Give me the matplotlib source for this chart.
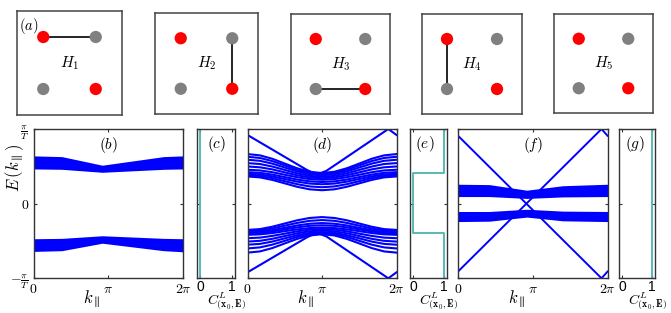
#!/usr/bin/env python3
"""
Floquet ribbon spectra for the five-step driving protocol H1..H5.

Top row: coupling pattern of every step.
Bottom row: quasienergy bands E(k) and the local marker C^L for three cases.
"""

import sys
import matplotlib
matplotlib.use("Agg")
import matplotlib.pyplot as plt

plt.rcParams['mathtext.fontset'] = 'cm'
plt.rcParams['font.family'] = ['DejaVu Serif']

BLUE = '#0000ff'
CYAN = '#4bb5ae'
FRAME = '#333333'

# --- top row: sites 0=TL, 1=TR, 2=BL, 3=BR --------------------------------
step_names = ['$H_1$', '$H_2$', '$H_3$', '$H_4$', '$H_5$']
step_bonds = [(0, 1), (1, 3), (2, 3), (0, 2), None]
site_x = [0.25, 0.75, 0.25, 0.75]
site_y = [0.75, 0.75, 0.25, 0.25]
site_colors = ['red', 'gray', 'gray', 'red']

# --- panel (b): band edges, k in units of pi, E in units of pi/T ----------
k_b = [0, 0.38, 0.92, 1.74, 2.0]
b_up_top = [0.64, 0.63, 0.515, 0.63, 0.64]
b_up_bot = [0.465, 0.46, 0.42, 0.46, 0.465]
b_lo_top = [-0.47, -0.465, -0.43, -0.465, -0.47]
b_lo_bot = [-0.64, -0.63, -0.53, -0.63, -0.645]

# --- panel (d): individual bulk lines on k = 0..pi (mirrored about pi) ----
k_d_half = [0, 1 / 6, 1 / 3, 1 / 2, 2 / 3, 5 / 6, 1.0]
d_upper = [
    [0.664, 0.647, 0.601, 0.537, 0.474, 0.427, 0.41],
    [0.628, 0.612, 0.570, 0.512, 0.453, 0.411, 0.395],
    [0.588, 0.574, 0.536, 0.484, 0.432, 0.394, 0.38],
    [0.543, 0.531, 0.497, 0.452, 0.406, 0.372, 0.36],
    [0.498, 0.487, 0.459, 0.419, 0.380, 0.351, 0.34],
    [0.454, 0.445, 0.421, 0.387, 0.354, 0.329, 0.32],
    [0.422, 0.413, 0.389, 0.356, 0.323, 0.299, 0.29],
    [0.400, 0.391, 0.365, 0.330, 0.295, 0.269, 0.26],
    [0.382, 0.371, 0.342, 0.301, 0.261, 0.231, 0.22],
    [0.364, 0.352, 0.318, 0.272, 0.226, 0.192, 0.18],
]
d_lower = [
    [-0.656, -0.640, -0.595, -0.533, -0.472, -0.426, -0.41],
    [-0.600, -0.586, -0.549, -0.498, -0.446, -0.409, -0.395],
    [-0.550, -0.539, -0.508, -0.465, -0.423, -0.391, -0.38],
    [-0.508, -0.498, -0.471, -0.434, -0.397, -0.370, -0.36],
    [-0.463, -0.455, -0.432, -0.402, -0.371, -0.348, -0.34],
    [-0.418, -0.411, -0.394, -0.369, -0.345, -0.327, -0.32],
    [-0.400, -0.393, -0.373, -0.345, -0.318, -0.297, -0.29],
    [-0.387, -0.379, -0.355, -0.324, -0.292, -0.269, -0.26],
    [-0.370, -0.360, -0.333, -0.295, -0.258, -0.230, -0.22],
    [-0.352, -0.341, -0.309, -0.266, -0.223, -0.192, -0.18],
]
k_d_edge = [0, 0.8, 0.93, 1.06, 1.89, 2.0]
d_edge_up = [0.92, 0.45, 0.39, 0.44, 1.0, 0.92]
d_edge_lo = [-0.92, -0.45, -0.39, -0.44, -1.0, -0.92]

# --- panel (f): band edges and two crossing edge states -------------------
k_f = [0, 0.42, 0.92, 1.4, 2.0]
f_up_top = [0.26, 0.255, 0.18, 0.24, 0.26]
f_up_bot = [0.095, 0.095, 0.07, 0.09, 0.095]
f_lo_top = [-0.105, -0.105, -0.075, -0.10, -0.105]
f_lo_bot = [-0.24, -0.235, -0.18, -0.23, -0.24]
k_f_edge = [0, 1.92, 2.0]
f_edge_a = [0.91, -1.0, -0.91]
f_edge_b = [-0.91, 1.0, 0.91]

# --- panels (c), (e), (g): local marker against energy --------------------
c_E = [-1, 1]
c_C = [0, 0]
e_E = [-1, -0.39, -0.39, 0.41, 0.41, 1]
e_C = [1, 1, 0, 0, 1, 1]
g_E = [-1, 1]
g_C = [1, 1]


def mirror(half):
    """Extend values given on 0..pi to 0..2pi (symmetric about pi)."""
    return list(half) + list(half[-2::-1])


def style_frame(ax):
    for s in ax.spines.values():
        s.set_color(FRAME)
        s.set_linewidth(1.0)


def draw_step(fig, rect, name, bond, label=None):
    ax = fig.add_axes(rect)
    ax.set_xlim(0, 1)
    ax.set_ylim(0, 1)
    ax.set_xticks([])
    ax.set_yticks([])
    for s in ax.spines.values():
        s.set_color('#444444')
        s.set_linewidth(1.1)
    if bond is not None:
        i, j = bond
        ax.plot([site_x[i], site_x[j]], [site_y[i], site_y[j]], color='black', lw=1.2, zorder=1)
    ax.scatter(site_x, site_y, s=78, c=site_colors, edgecolors='none', zorder=2)
    ax.text(0.5, 0.5, name, ha='center', va='center', fontsize=11)
    if label:
        ax.text(0.02, 0.95, label, ha='left', va='top', fontsize=10.5)


def band_axes(fig, rect, letter, show_y=False):
    ax = fig.add_axes(rect)
    ax.set_xlim(0, 2)
    ax.set_ylim(-1, 1)
    ax.set_xticks([0, 1, 2])
    ax.set_xticklabels(['$0$', '$\\pi$', '$2\\pi$'], fontsize=10)
    ax.set_yticks([-1, 0, 1])
    if show_y:
        ax.set_yticklabels(['$-\\frac{\\pi}{T}$', '$0$', '$\\frac{\\pi}{T}$'], fontsize=10)
    else:
        ax.set_yticklabels([])
    ax.tick_params(direction='in', length=2, width=0.8, top=True, right=True, pad=3, color=FRAME)
    ax.set_xlabel('$k_\\parallel$', fontsize=12, labelpad=0)
    ax.xaxis.set_label_coords(0.39, -0.07)
    ax.text(0.5, 0.89, letter, transform=ax.transAxes, ha='center', va='center', fontsize=11)
    style_frame(ax)
    return ax


def marker_axes(fig, rect, letter, E, C, letter_x=0.5):
    ax = fig.add_axes(rect)
    ax.plot(C, E, color=CYAN, lw=1.3)
    ax.set_xlim(-0.1, 1.1)
    ax.set_ylim(-1, 1)
    ax.set_xticks([0, 1])
    ax.set_xticklabels(['0', '1'], fontsize=10, family='Liberation Sans')
    ax.set_yticks([-1, 0, 1])
    ax.set_yticklabels([])
    ax.tick_params(direction='in', length=2, width=0.8, top=True, right=True, pad=1.5, color=FRAME)
    ax.set_xlabel('$C^L_{(\\mathbf{x_0},\\mathbf{E})}$', fontsize=10, labelpad=0)
    ax.xaxis.set_label_coords(0.78, -0.08)
    ax.text(letter_x, 0.9, letter, transform=ax.transAxes, ha='center', va='center', fontsize=11)
    style_frame(ax)
    return ax


def main():
    W, H = 671, 313
    fig = plt.figure(figsize=(W / 100, H / 100), dpi=100)

    def rect(x0, x1, y0, y1):
        # pixel box (top-left origin) -> figure fraction
        return [x0 / W, 1 - y1 / H, (x1 - x0) / W, (y1 - y0) / H]

    # Top row
    boxes = [(17, 122, 11, 115), (155, 258, 13, 114), (291, 390, 14, 114),
             (422, 522, 14, 114), (554, 653, 14, 113)]
    for n, (name, bond, b) in enumerate(zip(step_names, step_bonds, boxes)):
        draw_step(fig, rect(*b), name, bond, label='$(a)$' if n == 0 else None)

    y0, y1 = 129, 278.3

    # (b)
    ax_b = band_axes(fig, rect(33.5, 183, y0, y1), '$(b)$', show_y=True)
    ax_b.fill_between(k_b, b_up_bot, b_up_top, color=BLUE, lw=0)
    ax_b.fill_between(k_b, b_lo_bot, b_lo_top, color=BLUE, lw=0)

    # (c)
    marker_axes(fig, rect(197, 235, y0, y1), '$(c)$', c_E, c_C, letter_x=0.52)

    # (d)
    ax_d = band_axes(fig, rect(247.5, 396.5, y0, y1), '$(d)$')
    k_full = list(k_d_half) + [2 - k for k in k_d_half[-2::-1]]
    for line in d_upper + d_lower:
        ax_d.plot(k_full, mirror(line), color=BLUE, lw=1.5)
    ax_d.plot(k_d_edge, d_edge_up, color=BLUE, lw=1.5)
    ax_d.plot(k_d_edge, d_edge_lo, color=BLUE, lw=1.5)

    # (e)
    marker_axes(fig, rect(410, 447, y0, y1), '$(e)$', e_E, e_C, letter_x=0.41)

    # (f)
    ax_f = band_axes(fig, rect(458, 607.5, y0, y1), '$(f)$')
    ax_f.fill_between(k_f, f_up_bot, f_up_top, color=BLUE, lw=0)
    ax_f.fill_between(k_f, f_lo_bot, f_lo_top, color=BLUE, lw=0)
    ax_f.plot(k_f_edge, f_edge_a, color=BLUE, lw=1.4)
    ax_f.plot(k_f_edge, f_edge_b, color=BLUE, lw=1.4)

    # (g)
    marker_axes(fig, rect(619, 655, y0, y1), '$(g)$', g_E, g_C, letter_x=0.44)

    fig.text(15 / W, 1 - 168 / H, '$E\\,(k_\\parallel)$', rotation=90,
             ha='center', va='center', fontsize=12)

    fig.savefig('out.png', dpi=100)
    return 0


if __name__ == "__main__":
    sys.exit(main())
